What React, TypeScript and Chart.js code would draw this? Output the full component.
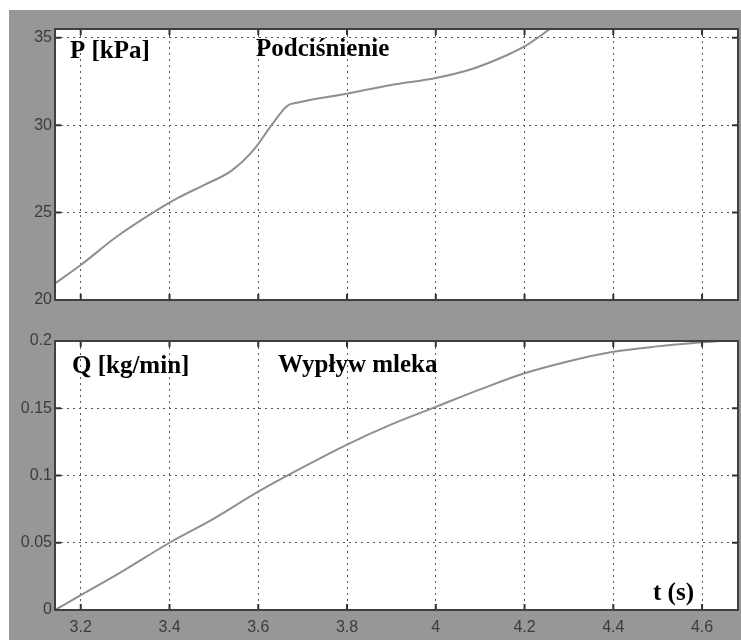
import React, { useEffect, useRef } from "react";
import { Chart, registerables } from "chart.js";
Chart.register(...registerables);

// ---- data ----
const tTicks = [3.2, 3.4, 3.6, 3.8, 4.0, 4.2, 4.4, 4.6];
const tTickLabels = ["3.2", "3.4", "3.6", "3.8", "4", "4.2", "4.4", "4.6"];
const pTicks = [20, 25, 30, 35];
const qTicks = [0, 0.05, 0.1, 0.15, 0.2];
const qTickLabels = ["0", "0.05", "0.1", "0.15", "0.2"];

const tP = [3.142, 3.2, 3.28, 3.36, 3.42, 3.48, 3.54, 3.59, 3.63, 3.665, 3.69, 3.8, 3.9, 4.0, 4.08, 4.16, 4.2, 4.26];
const pVals = [20.95, 22.0, 23.6, 24.95, 25.85, 26.6, 27.4, 28.6, 30.0, 31.1, 31.3, 31.8, 32.3, 32.7, 33.2, 34.0, 34.5, 35.55];

const tQ = [3.142, 3.2, 3.29, 3.4, 3.5, 3.6, 3.7, 3.8, 3.9, 4.0, 4.1, 4.2, 4.3, 4.4, 4.5, 4.6, 4.64];
const qVals = [0, 0.011, 0.028, 0.05, 0.068, 0.088, 0.106, 0.123, 0.138, 0.151, 0.164, 0.176, 0.185, 0.192, 0.196, 0.199, 0.2];

const pLabel = "P [kPa]";
const pTitle = "Podciśnienie";
const qLabel = "Q [kg/min]";
const qTitle = "Wypływ mleka";
const tLabel = "t (s)";

const X_MIN = 3.142;
const X_MAX = 4.681;

const GRID = "#555555";
const TICK_FONT = { family: "'Liberation Sans', Arial, sans-serif", size: 16 };
const TICK_COLOR = "#3c3c3c";

type Txt = { text: string; dx: number; dy: number };

function matlabPlugin(texts: Txt[]) {
  return {
    id: "matlab",
    afterDatasetsDraw(chart: any) {
      const { ctx, chartArea: a, scales } = chart;
      ctx.save();
      ctx.strokeStyle = "#333";
      ctx.lineWidth = 2;
      const xs = scales.x;
      const ys = scales.y;
      xs.ticks.forEach((t: any) => {
        const px = xs.getPixelForValue(t.value);
        ctx.beginPath();
        ctx.moveTo(px, a.bottom);
        ctx.lineTo(px, a.bottom - 6);
        ctx.moveTo(px, a.top);
        ctx.lineTo(px, a.top + 6);
        ctx.stroke();
      });
      ys.ticks.forEach((t: any) => {
        const py = ys.getPixelForValue(t.value);
        ctx.beginPath();
        ctx.moveTo(a.left, py);
        ctx.lineTo(a.left + 6, py);
        ctx.moveTo(a.right, py);
        ctx.lineTo(a.right - 6, py);
        ctx.stroke();
      });
      ctx.strokeStyle = "#404040";
      ctx.lineWidth = 2;
      ctx.strokeRect(a.left, a.top, a.right - a.left, a.bottom - a.top);
      ctx.fillStyle = "#000";
      ctx.font = "bold 25px 'Liberation Serif', 'Times New Roman', serif";
      ctx.textBaseline = "alphabetic";
      ctx.textAlign = "left";
      texts.forEach((t) => ctx.fillText(t.text, a.left + t.dx, a.top + t.dy));
      ctx.restore();
    },
  };
}

function makeOptions(
  yMin: number,
  yMax: number,
  yTicks: number[],
  yLabels: (v: number) => string,
  showX: boolean,
  padTop: number,
  padBottom: number,
  xHeight: number
): any {
  return {
    responsive: false,
    animation: false,
    maintainAspectRatio: false,
    layout: { padding: { left: 0, right: 3, top: padTop, bottom: padBottom } },
    plugins: { legend: { display: false }, tooltip: { enabled: false } },
    elements: { point: { radius: 0 } },
    scales: {
      x: {
        type: "linear",
        min: X_MIN,
        max: X_MAX,
        afterBuildTicks: (s: any) => {
          s.ticks = tTicks.map((v) => ({ value: v }));
        },
        afterFit: (s: any) => {
          s.height = xHeight;
        },
        ticks: {
          display: showX,
          autoSkip: false,
          maxRotation: 0,
          padding: 8,
          color: TICK_COLOR,
          font: TICK_FONT,
          callback: (v: number) => {
            const i = tTicks.findIndex((t) => Math.abs(t - v) < 1e-6);
            return i >= 0 ? tTickLabels[i] : "";
          },
        },
        grid: { color: GRID, lineWidth: 1, drawTicks: false },
        border: { display: false, dash: [2, 4] },
      },
      y: {
        type: "linear",
        min: yMin,
        max: yMax,
        afterBuildTicks: (s: any) => {
          s.ticks = yTicks.map((v) => ({ value: v }));
        },
        afterFit: (s: any) => {
          s.width = 55;
        },
        ticks: {
          autoSkip: false,
          padding: 3,
          color: TICK_COLOR,
          font: TICK_FONT,
          callback: (v: number) => yLabels(v),
        },
        grid: { color: GRID, lineWidth: 1, drawTicks: false },
        border: { display: false, dash: [2, 4] },
      },
    },
  };
}

function Panel(props: {
  top: number;
  height: number;
  tx: number[];
  vals: number[];
  options: any;
  texts: Txt[];
}) {
  const ref = useRef<HTMLCanvasElement | null>(null);
  useEffect(() => {
    if (!ref.current) return;
    const chart = new Chart(ref.current, {
      type: "line",
      data: {
        datasets: [
          {
            data: props.tx.map((t, i) => ({ x: t, y: props.vals[i] })),
            borderColor: "#8f8f8f",
            borderWidth: 2,
            pointRadius: 0,
            cubicInterpolationMode: "monotone",
            fill: false,
          },
        ],
      },
      options: props.options,
      plugins: [matlabPlugin(props.texts)],
    } as any);
    return () => chart.destroy();
  }, []);
  return (
    <canvas
      ref={ref}
      width={741}
      height={props.height}
      style={{ position: "absolute", left: 0, top: props.top, width: 741, height: props.height }}
    />
  );
}

export default function App() {
  const topOpts = makeOptions(20, 35.5, pTicks, (v) => String(v), false, 29, 20, 0);
  const botOpts = makeOptions(
    0,
    0.2,
    qTicks,
    (v) => {
      const i = qTicks.findIndex((t) => Math.abs(t - v) < 1e-9);
      return i >= 0 ? qTickLabels[i] : "";
    },
    true,
    21,
    0,
    30
  );
  return (
    <div style={{ position: "fixed", left: 0, top: 0, width: 741, height: 640, background: "#fff", overflow: "hidden" }}>
      <div style={{ position: "absolute", left: 9, top: 10, width: 732, height: 630, background: "#979797" }} />
      <div style={{ position: "absolute", left: 55, top: 29, width: 683, height: 271, background: "#fff" }} />
      <div style={{ position: "absolute", left: 55, top: 341, width: 683, height: 269, background: "#fff" }} />
      <Panel
        top={0}
        height={320}
        tx={tP}
        vals={pVals}
        options={topOpts}
        texts={[
          { text: pLabel, dx: 15, dy: 29 },
          { text: pTitle, dx: 201, dy: 27 },
        ]}
      />
      <Panel
        top={320}
        height={320}
        tx={tQ}
        vals={qVals}
        options={botOpts}
        texts={[
          { text: qLabel, dx: 17, dy: 32 },
          { text: qTitle, dx: 223, dy: 31 },
          { text: tLabel, dx: 598, dy: 259 },
        ]}
      />
    </div>
  );
}
